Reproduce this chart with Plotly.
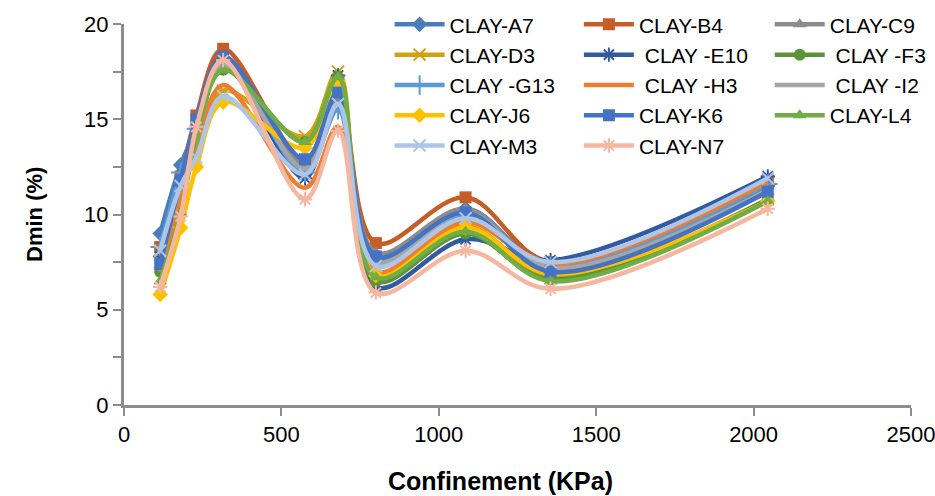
import plotly.graph_objects as go

# Confinement pressure (KPa)
confinement = [115, 180, 230, 315, 575, 680, 800, 1085, 1355, 2045]

# Dmin (%) per clay sample
clay_a7 = [9.0, 12.6, 14.5, 18.2, 12.5, 16.0, 7.6, 10.3, 7.3, 11.5]
clay_b4 = [8.3, 12.0, 15.2, 18.7, 12.8, 16.3, 8.5, 10.9, 7.5, 11.8]
clay_c9 = [8.0, 11.8, 14.8, 18.0, 12.6, 16.2, 8.0, 10.3, 7.2, 11.2]
clay_d3 = [7.5, 11.0, 13.6, 16.5, 14.1, 17.5, 6.9, 9.4, 6.8, 10.8]
clay_e10 = [7.8, 11.5, 14.0, 17.9, 11.9, 17.3, 6.2, 8.7, 7.6, 12.0]
clay_f3 = [7.0, 10.5, 14.3, 17.6, 13.8, 17.2, 6.5, 9.0, 6.6, 10.8]
clay_g13 = [8.3, 12.2, 14.5, 18.0, 12.2, 15.5, 7.4, 10.0, 7.3, 11.6]
clay_h3 = [7.0, 10.8, 13.5, 16.8, 11.4, 14.6, 7.0, 9.6, 7.4, 11.7]
clay_i2 = [7.9, 11.6, 14.2, 17.8, 12.4, 15.8, 7.5, 10.1, 7.2, 11.3]
clay_j6 = [5.8, 9.3, 12.5, 15.9, 13.5, 17.0, 6.8, 9.3, 6.9, 10.7]
clay_k6 = [7.4, 11.8, 15.0, 18.3, 12.9, 16.4, 7.8, 10.1, 7.0, 11.2]
clay_l4 = [6.5, 10.1, 14.0, 17.6, 13.8, 17.2, 6.7, 9.1, 6.5, 10.7]
clay_m3 = [8.1, 11.5, 13.0, 16.2, 12.1, 15.8, 7.3, 9.8, 7.5, 11.9]
clay_n7 = [6.2, 9.9, 14.6, 18.1, 10.8, 14.4, 5.9, 8.1, 6.1, 10.3]

series_names = ["CLAY-A7", "CLAY-B4", "CLAY-C9", "CLAY-D3", "\u00a0CLAY -E10", "\u00a0CLAY -F3",
                "CLAY -G13", "\u00a0CLAY -H3", "\u00a0CLAY -I2", "CLAY-J6", "CLAY-K6", "CLAY-L4",
                "CLAY-M3", "CLAY-N7"]
series_values = [clay_a7, clay_b4, clay_c9, clay_d3, clay_e10, clay_f3, clay_g13, clay_h3,
                 clay_i2, clay_j6, clay_k6, clay_l4, clay_m3, clay_n7]

styles = [
    ("#4A7EBB", "diamond", 12),
    ("#C65D27", "square", 12),
    ("#8C8C8C", "triangle-up", 12),
    ("#D1A10E", "x-thin-open", 12),
    ("#335AA1", "asterisk-open", 12),
    ("#5B9339", "circle", 12),
    ("#5B9BD5", "cross-thin-open", 14),
    ("#ED7D31", None, 0),
    ("#A5A5A5", None, 0),
    ("#FFC000", "diamond", 12),
    ("#4472C4", "square", 12),
    ("#70AD47", "triangle-up", 12),
    ("#ADC5E7", "x-thin-open", 12),
    ("#F5B7A0", "asterisk-open", 12),
]
legend_cols = ["legend", "legend2", "legend3"]

fig = go.Figure()
for i, (name, vals) in enumerate(zip(series_names, series_values)):
    color, sym, size = styles[i]
    tr = dict(x=confinement, y=vals, name=name,
              line=dict(color=color, width=4.5, shape="spline", smoothing=1.0),
              legend=legend_cols[i % 3], legendgroup="g%d" % i)
    if sym is None:
        tr["mode"] = "lines"
    else:
        tr["mode"] = "lines+markers"
        tr["marker"] = dict(symbol=sym, size=size, color=color,
                            line=dict(color=color, width=2 if "open" in sym else 0))
    fig.add_trace(go.Scatter(**tr))

axis_gray = "#8C8C8C"
legend_common = dict(yanchor="top", xanchor="left", y=1.052, bgcolor="rgba(0,0,0,0)",
                     font=dict(size=21, color="#000"), tracegroupgap=0, itemwidth=50)

fig.update_layout(
    width=935, height=496,
    margin=dict(l=124, r=24, t=24, b=91, autoexpand=False),
    paper_bgcolor="white", plot_bgcolor="white",
    font=dict(family="Liberation Sans, Arial, sans-serif", size=22, color="#000"),
    legend=dict(x=0.3375, **legend_common),
    legend2=dict(x=0.578, **legend_common),
    legend3=dict(x=0.8205, **legend_common),
    xaxis=dict(range=[0, 2500], tick0=0, dtick=500, ticks="outside", ticklen=8, tickwidth=2,
               tickcolor=axis_gray, showline=True, linecolor=axis_gray, linewidth=3,
               showgrid=False, zeroline=False, tickfont=dict(size=22), automargin=False,
               ticklabeloverflow="allow"),
    yaxis=dict(range=[0, 20], tick0=0, dtick=5, ticks="outside", ticklen=8, tickwidth=2,
               tickcolor=axis_gray, showline=True, linecolor=axis_gray, linewidth=3,
               showgrid=False, zeroline=False, tickfont=dict(size=22), automargin=False,
               minor=dict(dtick=2.5, ticks="outside", ticklen=8, tickwidth=2,
                          tickcolor=axis_gray, showgrid=False)),
    annotations=[
        dict(text="Confinement (KPa)", xref="paper", yref="paper", x=0.479, y=-0.2,
             xanchor="center", yanchor="middle", showarrow=False,
             font=dict(size=25, weight="bold")),
        dict(text="Dmin (%)", xref="paper", yref="paper", x=-0.113, y=0.499,
             xanchor="center", yanchor="middle", showarrow=False, textangle=-90,
             font=dict(size=22, weight="bold")),
    ],
)

fig.write_html("out.html")
